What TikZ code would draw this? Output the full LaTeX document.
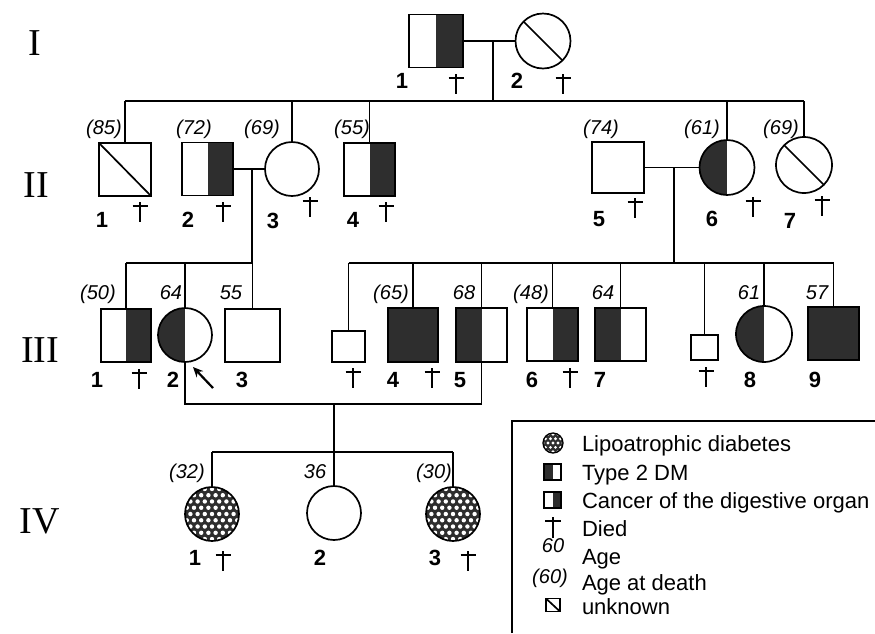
\documentclass[tikz,border=0pt]{standalone}
\usepackage{fontspec}
\setmainfont{Liberation Sans}
\newfontfamily\genfont{Liberation Serif}
\usetikzlibrary{arrows.meta}
\colorlet{dk}{black!82}
\tikzset{
  every node/.style={inner sep=0pt, outer sep=0pt},
  ln/.style={line width=1.7pt},
  sq/.style={draw, line width=1.7pt, rectangle, minimum width=52pt, minimum height=53pt},
  ci/.style={draw, line width=1.7pt, circle, minimum size=55pt},
  lefthalf/.style={path picture={\fill[dk] (path picture bounding box.north west) rectangle (path picture bounding box.south);}},
  righthalf/.style={path picture={\fill[dk] (path picture bounding box.north) rectangle (path picture bounding box.south east);}},
  full/.style={fill=dk},
  unk/.style={path picture={\draw[line width=1.7pt] (path picture bounding box.north west) -- (path picture bounding box.south east);}},
  dotsfill/.style 2 args={path picture={
    \fill[dk] (path picture bounding box.south west) rectangle (path picture bounding box.north east);
    \begin{scope}[shift={(path picture bounding box.center)}]
      \foreach \j in {-6,...,6}{
        \foreach \i in {-6,...,6}{
          \fill[white] ({\i*#1+0.5*#1*mod(\j+6,2)},{\j*0.87*#1}) circle (#2);
        }}
    \end{scope}}},
  age/.style={font=\fontsize{20}{20}\selectfont\itshape, anchor=base},
  lab/.style={font=\fontsize{22}{22}\selectfont\bfseries, anchor=base},
  gen/.style={font=\genfont\fontsize{38}{38}\selectfont},
  leg/.style={font=\fontsize{22}{22}\selectfont, anchor=base west},
  dead/.pic={\draw[line width=2.3pt] (0,-4) -- (0,16) (-7.5,0) -- (7.5,0);}
}
\begin{document}
\begin{tikzpicture}[x=1pt,y=-1pt]
\useasboundingbox (0,0) rectangle (875,633);
% generation numerals
\node[gen] (gI) at (35,43) {I};
\node[gen] (gII) at (36,185) {II};
\node[gen] (gIII) at (40,350) {III};
\node[gen] (gIV) at (40,521) {IV};
% helper coordinates
\coordinate (sib2) at (0,101);
\coordinate (sib3) at (0,263);
\coordinate (mar34) at (0,404);
\coordinate (sib4) at (0,452);
% ---------- Generation I
\node[sq,righthalf,minimum width=54pt] (I1) at (436,41) {};
\node[ci,unk] (I2) at (543,41) {};
\draw[ln] (I1.east) -- (I2.west);
\coordinate (dI) at (493,41);
\draw[ln] (dI) -- (dI |- sib2);
\node[lab] (lI1) at (402,88) {1};
\node[lab] (lI2) at (517,88) {2};
\pic at (456,78) {dead};
\pic at (563,78) {dead};
% ---------- Generation II
\node[sq,unk] (II1) at (125,169.5) {};
\node[sq,righthalf,minimum width=51pt] (II2) at (207.5,169) {};
\node[ci,minimum size=54pt] (II3) at (292,169) {};
\node[sq,righthalf,minimum width=51pt] (II4) at (369.5,169.5) {};
\node[sq,minimum height=51pt] (II5) at (618,167.5) {};
\node[ci,lefthalf] (II6) at (727,167.5) {};
\node[ci,unk,minimum size=56pt] (II7) at (804,165) {};
\draw[ln] (II1.north |- sib2) -- (II7.north |- sib2);
\foreach \n in {II1,II3,II4,II6,II7} \draw[ln] (\n.north) -- (\n.north |- sib2);
\draw[ln] (II2.east) -- (II3.west);
\coordinate (dII23) at (252,169);
\draw[ln] (dII23) -- (dII23 |- sib3);
\draw[ln] (II5.east) -- (II6.west);
\coordinate (dII56) at (674,167.5);
\draw[ln] (dII56) -- (dII56 |- sib3);
\node[age] (aII1) at (104,134) {(85)};
\node[age] (aII2) at (194,134) {(72)};
\node[age] (aII3) at (262,134) {(69)};
\node[age] (aII4) at (352,134) {(55)};
\node[age] (aII5) at (601,134) {(74)};
\node[age] (aII6) at (702,134) {(61)};
\node[age] (aII7) at (781,134) {(69)};
\node[lab] (lII1) at (102,227) {1};
\node[lab] (lII2) at (188,227) {2};
\node[lab] (lII3) at (273,228) {3};
\node[lab] (lII4) at (353,227) {4};
\node[lab] (lII5) at (599,226) {5};
\node[lab] (lII6) at (712,226) {6};
\node[lab] (lII7) at (790,228) {7};
\pic at (140,206) {dead};
\pic at (223,206) {dead};
\pic at (310,201) {dead};
\pic at (386,206) {dead};
\pic at (635,202) {dead};
\pic at (753,201) {dead};
\pic at (822,200) {dead};
% ---------- Generation III
\node[sq,righthalf,minimum width=50pt] (III1) at (126,335.5) {};
\node[ci,lefthalf,minimum size=54pt] (III2) at (185,335) {};
\node[sq,minimum width=55pt] (III3) at (252.5,335.5) {};
\node[sq,minimum width=33pt,minimum height=31pt] (IIIa) at (348.5,346.5) {};
\node[sq,full,minimum width=50pt,minimum height=54pt] (III4) at (413,335) {};
\node[sq,lefthalf,minimum width=51pt,minimum height=54pt] (III5) at (481.5,335) {};
\node[sq,righthalf,minimum width=51pt] (III6) at (552.5,334.5) {};
\node[sq,lefthalf,minimum width=51pt] (III7) at (620.5,334.5) {};
\node[sq,minimum width=27pt,minimum height=25pt] (IIIb) at (704.5,347.5) {};
\node[ci,lefthalf,minimum size=56pt] (III8) at (764,334) {};
\node[sq,full,minimum width=51pt] (III9) at (833.5,333.5) {};
\draw[ln] (III1.north |- sib3) -- (III3.north |- sib3);
\foreach \n in {III1,III2,III3} \draw[ln] (\n.north) -- (\n.north |- sib3);
\draw[ln] (IIIa.north |- sib3) -- (III9.north |- sib3);
\foreach \n in {IIIa,III4,III5,III6,III7,IIIb,III8,III9} \draw[ln] (\n.north) -- (\n.north |- sib3);
\draw[ln] (III2.south) -- (III2.south |- mar34) -- (III5.south |- mar34) -- (III5.south);
\coordinate (dIII) at (334,404);
\draw[ln] (dIII) -- (dIII |- sib4);
\node[age] (aIII1) at (98,299) {(50)};
\node[age] (aIII2) at (171,299) {64};
\node[age] (aIII3) at (231,299) {55};
\node[age] (aIII4) at (391,299) {(65)};
\node[age] (aIII5) at (464,299) {68};
\node[age] (aIII6) at (531,299) {(48)};
\node[age] (aIII7) at (603,299) {64};
\node[age] (aIII8) at (749,299) {61};
\node[age] (aIII9) at (817,299) {57};
\node[lab] (lIII1) at (97,387.5) {1};
\node[lab] (lIII2) at (173,387.5) {2};
\node[lab] (lIII3) at (242,387.5) {3};
\node[lab] (lIII4) at (393,387.5) {4};
\node[lab] (lIII5) at (460,387.5) {5};
\node[lab] (lIII6) at (532,387.5) {6};
\node[lab] (lIII7) at (600,387.5) {7};
\node[lab] (lIII8) at (750,387.5) {8};
\node[lab] (lIII9) at (815,387.5) {9};
\pic at (139,373) {dead};
\pic at (353,372) {dead};
\pic at (432,372) {dead};
\pic at (570,372) {dead};
\pic at (706,371) {dead};
\coordinate (arrTail) at (213,388);
\coordinate (arrTip) at (193,367);
\draw[line width=2.2pt,-{Stealth[length=10pt,width=9pt]}] (arrTail) -- (arrTip);
% ---------- Generation IV
\node[ci,dotsfill={7.2}{2.2},minimum size=54pt] (IV1) at (212,514) {};
\node[ci,minimum size=54pt] (IV2) at (334,513) {};
\node[ci,dotsfill={7.2}{2.2},minimum size=54pt] (IV3) at (453,514) {};
\draw[ln] (IV1.north |- sib4) -- (IV3.north |- sib4);
\foreach \n in {IV1,IV2,IV3} \draw[ln] (\n.north) -- (\n.north |- sib4);
\node[age] (aIV1) at (187,478) {(32)};
\node[age] (aIV2) at (315,478) {36};
\node[age] (aIV3) at (434,478) {(30)};
\node[lab] (lIV1) at (195,565) {1};
\node[lab] (lIV2) at (320,565) {2};
\node[lab] (lIV3) at (435,565) {3};
\pic at (223,555) {dead};
\pic at (468,555) {dead};
% ---------- Legend
\coordinate (lgBL) at (512,633);
\coordinate (lgTL) at (512,421);
\coordinate (lgTR) at (875,421);
\draw[line width=1.4pt] (lgBL) -- (lgTL) -- (lgTR);
\node[ci,line width=1.3pt,minimum size=20pt,dotsfill={5}{1.6}] (lgD) at (553,443) {};
\node[sq,lefthalf,line width=1.3pt,minimum width=17pt,minimum height=16pt] (lgT) at (552.5,472) {};
\node[sq,righthalf,line width=1.3pt,minimum width=17pt,minimum height=16pt] (lgC) at (552.5,500) {};
\draw[line width=1.4pt] (553,517) -- (553,538) (545,521) -- (561,521);
\node[age] (lg60) at (553,552) {60};
\node[age] (lg60d) at (550,583) {(60)};
\node[sq,unk,line width=1.3pt,minimum width=14pt,minimum height=13pt] (lgU) at (553,605) {};
\node[leg] (tD) at (582,451) {Lipoatrophic diabetes};
\node[leg] (tT) at (582,480) {Type 2 DM};
\node[leg] (tC) at (582,508) {Cancer of the digestive organ};
\node[leg] (tX) at (582,536) {Died};
\node[leg] (tA) at (582,564) {Age};
\node[leg] (tAD) at (582,590) {Age at death};
\node[leg] (tU) at (582,614) {unknown};
\end{tikzpicture}
\end{document}
